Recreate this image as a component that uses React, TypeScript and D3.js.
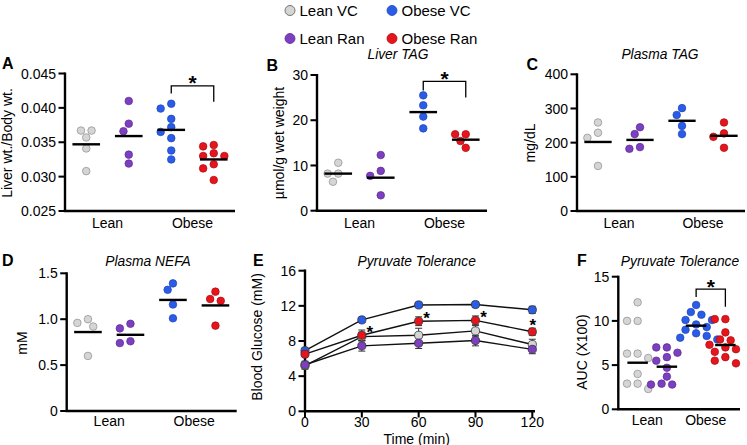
import React from 'react';
import * as d3 from 'd3';

// ---------- data ----------
const groupNames = ['Lean VC', 'Lean Ran', 'Obese VC', 'Obese Ran'];
const categoryLabels = ['Lean', 'Obese'];

// A: Liver wt./Body wt.
const aLeanVC = [0.0357, 0.0367, 0.0367, 0.0341, 0.0308];
const aLeanRan = [0.041, 0.0377, 0.0366, 0.0332, 0.0319];
const aObeseVC = [0.0406, 0.0399, 0.0384, 0.0372, 0.0365, 0.0356, 0.0338, 0.0325];
const aObeseRan = [0.0346, 0.0344, 0.0334, 0.033, 0.033, 0.0318, 0.0312, 0.0295];
const aMeans = [0.0347, 0.0359, 0.0368, 0.0325];
const aSig = [0.0432, 0.0421, 0.0409];
const aTicks = [0.025, 0.03, 0.035, 0.04, 0.045];

// B: Liver TAG
const bLeanVC = [10.6, 8.2, 8.2, 6.4];
const bLeanRan = [12.3, 8.8, 7.7, 3.4];
const bObeseVC = [25.5, 23.3, 20.8, 18.2];
const bObeseRan = [16.9, 16.9, 15.4, 13.9];
const bMeans = [8.2, 7.3, 21.8, 15.7];
const bSig = [28.6, 26.6, 25.0];
const bTicks = [0, 10, 20, 30];

// C: Plasma TAG
const cLeanVC = [259, 229, 214, 132];
const cLeanRan = [245, 225, 187, 182];
const cObeseVC = [301, 281, 249, 225];
const cObeseRan = [259, 227, 217, 185];
const cMeans = [202, 208, 264, 220];
const cTicks = [0, 100, 200, 300, 400];

// D: Plasma NEFA
const dLeanVC = [1.0, 0.96, 0.92, 0.6];
const dLeanRan = [0.95, 0.9, 0.76, 0.74];
const dObeseVC = [1.39, 1.32, 1.16, 1.01];
const dObeseRan = [1.3, 1.22, 1.2, 0.93];
const dMeans = [0.86, 0.83, 1.21, 1.15];
const dTicks = [0, 0.5, 1.0, 1.5];

// E: Pyruvate tolerance time course
const eTimes = [0, 30, 60, 90, 120];
const eLeanVC = [5.2, 8.5, 8.65, 9.15, 7.6];
const eLeanVCsem = [0.4, 0.5, 0.8, 0.6, 0.6];
const eLeanRan = [5.3, 7.45, 7.75, 8.05, 7.05];
const eLeanRanSem = [0.4, 0.6, 0.6, 0.6, 0.5];
const eObeseVC = [6.9, 10.4, 12.1, 12.15, 11.55];
const eObeseVCsem = [0.3, 0.3, 0.3, 0.3, 0.4];
const eObeseRan = [6.5, 8.65, 10.25, 10.35, 9.05];
const eObeseRanSem = [0.3, 0.6, 0.5, 0.5, 0.4];
const eStarTimes = [30, 60, 90, 120];
const eYTicks = [0, 4, 8, 12, 16];

// F: AUC
const fLeanVC = [12.1, 10.0, 10.0, 6.3, 6.3, 5.8, 4.0, 2.9, 2.9, 2.3];
const fLeanRan = [7.0, 7.0, 6.4, 5.9, 5.5, 4.7, 3.7, 2.9, 2.8, 2.8];
const fObeseVC = [11.8, 11.0, 10.7, 10.1, 10.1, 9.6, 9.3, 9.0, 8.6, 8.3, 8.1, 7.9];
const fObeseRan = [10.2, 10.2, 8.7, 7.9, 7.8, 7.3, 7.0, 6.8, 6.5, 5.9, 5.5, 5.2];
const fMeans = [5.27, 4.82, 9.46, 7.27];
const fSig = [13.6, 12.7, 11.6];
const fTicks = [0, 5, 10, 15];

// ---------- styles ----------
const FONT = "'Liberation Sans', Arial, Helvetica, sans-serif";
const fills = ['#d5d5d5', '#7b3fbf', '#2b5ce8', '#e8141b'];
const strokes = ['#8c8c8c', '#5b2b92', '#1e45b4', '#a50d12'];
const AXW = 2.4;
const R = 3.8;

function swarm(vals: number[], y: (v: number) => number, cx: number, r: number, step: number) {
  const placed: { x: number; y: number }[] = [];
  const minD = 2 * r + 0.6;
  for (const v of vals) {
    const py = y(v);
    let chosen = 0;
    for (let k = 0; k < 11; k++) {
      const n = Math.ceil(k / 2);
      const off = k === 0 ? 0 : (k % 2 === 1 ? -n : n) * step;
      if (placed.every((q) => Math.hypot(q.x - (cx + off), q.y - py) >= minD)) {
        chosen = off;
        break;
      }
    }
    placed.push({ x: cx + chosen, y: py });
  }
  return placed;
}

type DotProps = {
  series: number[][];
  means: number[];
  ticks: number[];
  fmt: (v: number) => string;
  axisX: number;
  bandStart: number;
  x1: number;
  yTop: number;
  yBottom: number;
  catY: number;
  catDx?: number;
  ylabel: string;
  ylabelX: number;
  ylabelY: number;
  sig?: number[];
  lineFrac: number;
};

function DotPanel(p: DotProps) {
  const x = d3.scaleBand<string>().domain(groupNames).range([p.bandStart, p.x1]);
  const dom = d3.extent(p.ticks) as [number, number];
  const y = d3.scaleLinear().domain(dom).range([p.yBottom, p.yTop]);
  const bw = x.bandwidth();
  const cx = (g: string) => (x(g) as number) + bw / 2;
  const catDx = p.catDx ?? 0;
  return (
    <g>
      {/* axes */}
      <line x1={p.axisX} x2={p.axisX} y1={p.yBottom} y2={p.yTop - 1} stroke="#000" strokeWidth={AXW} />
      <line x1={p.axisX - AXW / 2} x2={p.x1} y1={p.yBottom} y2={p.yBottom} stroke="#000" strokeWidth={AXW} />
      {p.ticks.map((t) => (
        <g key={t}>
          <line x1={p.axisX - 6.5} x2={p.axisX} y1={y(t)} y2={y(t)} stroke="#000" strokeWidth={AXW * 0.85} />
          <text x={p.axisX - 9} y={y(t)} dy="0.36em" textAnchor="end" fontSize={14}>
            {p.fmt(t)}
          </text>
        </g>
      ))}
      {categoryLabels.map((c, i) => (
        <text
          key={c}
          x={(cx(groupNames[2 * i]) + cx(groupNames[2 * i + 1])) / 2 + catDx}
          y={p.catY}
          textAnchor="middle"
          fontSize={14}
        >
          {c}
        </text>
      ))}
      <text transform={`translate(${p.ylabelX},${p.ylabelY}) rotate(-90)`} textAnchor="middle" fontSize={14}>
        {p.ylabel}
      </text>
      {/* points */}
      {p.series.map((vals, gi) =>
        swarm(vals, y, cx(groupNames[gi]), R, 5.3).map((pt, i) => (
          <circle key={`${gi}-${i}`} cx={pt.x} cy={pt.y} r={R} fill={fills[gi]} stroke={strokes[gi]} strokeWidth={0.7} />
        ))
      )}
      {/* mean lines */}
      {p.means.map((m, gi) => (
        <line
          key={gi}
          x1={cx(groupNames[gi]) - (bw * p.lineFrac) / 2}
          x2={cx(groupNames[gi]) + (bw * p.lineFrac) / 2}
          y1={y(m)}
          y2={y(m)}
          stroke="#000"
          strokeWidth={2.4}
        />
      ))}
      {p.sig && (
        <g>
          <path
            d={`M${cx(groupNames[2])},${y(p.sig[1])}V${y(p.sig[0])}H${cx(groupNames[3])}V${y(p.sig[2])}`}
            fill="none"
            stroke="#000"
            strokeWidth={1.3}
          />
          <text x={(cx(groupNames[2]) + cx(groupNames[3])) / 2} y={y(p.sig[0]) + 4.5} textAnchor="middle" fontSize={21} fontWeight="bold">
            *
          </text>
        </g>
      )}
    </g>
  );
}

function TimePanel() {
  const x = d3.scaleLinear().domain([0, 120]).range([305, 532.3]);
  const y = d3.scaleLinear().domain([0, 16]).range([411.3, 270.7]);
  const all = [
    { v: eLeanVC, s: eLeanVCsem, gi: 0 },
    { v: eObeseVC, s: eObeseVCsem, gi: 2 },
    { v: eObeseRan, s: eObeseRanSem, gi: 3 },
    { v: eLeanRan, s: eLeanRanSem, gi: 1 },
  ];
  const line = d3
    .line<number>()
    .x((_, i) => x(eTimes[i]))
    .y((d) => y(d));
  return (
    <g>
      <line x1={305} x2={305} y1={411.3} y2={269.5} stroke="#000" strokeWidth={AXW} />
      <line x1={304} x2={535} y1={411.3} y2={411.3} stroke="#000" strokeWidth={AXW} />
      {eYTicks.map((t) => (
        <g key={t}>
          <line x1={298.5} x2={305} y1={y(t)} y2={y(t)} stroke="#000" strokeWidth={AXW * 0.85} />
          <text x={296} y={y(t)} dy="0.36em" textAnchor="end" fontSize={14}>
            {t}
          </text>
        </g>
      ))}
      {eTimes.map((t) => (
        <g key={t}>
          <line x1={x(t)} x2={x(t)} y1={411.3} y2={417.5} stroke="#000" strokeWidth={AXW * 0.85} />
          <text x={x(t)} y={427} textAnchor="middle" fontSize={14}>
            {t}
          </text>
        </g>
      ))}
      <text x={416.7} y={443.5} textAnchor="middle" fontSize={14}>
        Time (min)
      </text>
      <text transform="translate(262,337) rotate(-90)" textAnchor="middle" fontSize={14}>
        Blood Glucose (mM)
      </text>
      {all.map((s) => (
        <path key={`l${s.gi}`} d={line(s.v) as string} fill="none" stroke="#111" strokeWidth={1.4} />
      ))}
      {all.map((s) =>
        s.v.map((m, i) => (
          <g key={`e${s.gi}-${i}`} stroke="#333" strokeWidth={1}>
            <line x1={x(eTimes[i])} x2={x(eTimes[i])} y1={y(m - s.s[i])} y2={y(m + s.s[i])} />
            <line x1={x(eTimes[i]) - 3.5} x2={x(eTimes[i]) + 3.5} y1={y(m - s.s[i])} y2={y(m - s.s[i])} />
            <line x1={x(eTimes[i]) - 3.5} x2={x(eTimes[i]) + 3.5} y1={y(m + s.s[i])} y2={y(m + s.s[i])} />
          </g>
        ))
      )}
      {all.map((s) =>
        s.v.map((m, i) => (
          <circle key={`c${s.gi}-${i}`} cx={x(eTimes[i])} cy={y(m)} r={4.1} fill={fills[s.gi]} stroke="#333" strokeWidth={0.8} />
        ))
      )}
      {eStarTimes.map((t) => {
        const i = eTimes.indexOf(t);
        const last = t === 120;
        const px = x(t) + (last ? 0.5 : 8);
        const py = y(eObeseRan[i]) + (last ? -1 : 3);
        return (
          <text key={t} x={px} y={py} textAnchor="middle" fontSize={17} fontWeight="bold">
            *
          </text>
        );
      })}
    </g>
  );
}

export default function App() {
  const legend = [
    { gi: 0, x: 290, y: 10.5 },
    { gi: 2, x: 392, y: 10.5 },
    { gi: 1, x: 290, y: 38.5 },
    { gi: 3, x: 392, y: 38.5 },
  ];
  const fmt3 = d3.format('.3f');
  const fmt1 = (v: number) => (v === 0 ? '0' : d3.format('.1f')(v));
  const fmt0 = d3.format('d');
  return (
    <svg
      width={747}
      height={445}
      style={{ position: 'absolute', left: 0, top: 0, background: '#fff' }}
      fontFamily={FONT}
    >
      <rect x={0} y={0} width={747} height={445} fill="#fff" />
      {/* legend */}
      {legend.map((l) => (
        <g key={l.gi}>
          <circle cx={l.x} cy={l.y} r={5} fill={fills[l.gi]} stroke={l.gi === 0 ? '#555' : strokes[l.gi]} strokeWidth={0.8} />
          <text x={l.x + 9.5} y={l.y + 5.5} fontSize={15}>
            {groupNames[l.gi]}
          </text>
        </g>
      ))}

      {/* panel letters */}
      {[
        ['A', 2, 69],
        ['B', 266.5, 71],
        ['C', 526.5, 70],
        ['D', 2, 266],
        ['E', 253, 266],
        ['F', 577, 266],
      ].map(([t, px, py]) => (
        <text key={t as string} x={px as number} y={py as number} fontSize={16} fontWeight="bold">
          {t}
        </text>
      ))}

      {/* titles */}
      {[
        ['Liver TAG', 398, 59],
        ['Plasma TAG', 660, 59],
        ['Plasma NEFA', 148, 266],
        ['Pyruvate Tolerance', 416.7, 266],
        ['Pyruvate Tolerance', 680, 266],
      ].map(([t, px, py], i) => (
        <text key={i} x={px as number} y={py as number} fontSize={13.8} fontStyle="italic" textAnchor="middle">
          {t}
        </text>
      ))}

      <DotPanel
        series={[aLeanVC, aLeanRan, aObeseVC, aObeseRan]}
        means={aMeans}
        ticks={aTicks}
        fmt={fmt3}
        axisX={65}
        bandStart={65}
        x1={235}
        yTop={73.5}
        yBottom={211}
        catY={227.5}
        ylabel="Liver wt./Body wt."
        ylabelX={12}
        ylabelY={143}
        sig={aSig}
        lineFrac={0.65}
      />
      <DotPanel
        series={[bLeanVC, bLeanRan, bObeseVC, bObeseRan]}
        means={bMeans}
        ticks={bTicks}
        fmt={fmt0}
        axisX={317}
        bandStart={317}
        x1={487}
        yTop={75}
        yBottom={210.7}
        catY={227.5}
        ylabel="µmol/g wet weight"
        ylabelX={284}
        ylabelY={143}
        sig={bSig}
        lineFrac={0.65}
      />
      <DotPanel
        series={[cLeanVC, cLeanRan, cObeseVC, cObeseRan]}
        means={cMeans}
        ticks={cTicks}
        fmt={fmt0}
        axisX={577}
        bandStart={577}
        x1={745}
        yTop={74.3}
        yBottom={211}
        catY={227.5}
        ylabel="mg/dL"
        ylabelX={535}
        ylabelY={143}
        lineFrac={0.65}
      />
      <DotPanel
        series={[dLeanVC, dLeanRan, dObeseVC, dObeseRan]}
        means={dMeans}
        ticks={dTicks}
        fmt={fmt1}
        axisX={66.7}
        bandStart={66.7}
        x1={236.7}
        yTop={273.3}
        yBottom={411}
        catY={426}
        ylabel="mM"
        ylabelX={27}
        ylabelY={343}
        lineFrac={0.65}
      />
      <TimePanel />
      <DotPanel
        series={[fLeanVC, fLeanRan, fObeseVC, fObeseRan]}
        means={fMeans}
        ticks={fTicks}
        fmt={fmt0}
        axisX={618.3}
        bandStart={623}
        x1={740}
        yTop={276.7}
        yBottom={409.3}
        catY={425}
        catDx={-5}
        ylabel="AUC (X100)"
        ylabelX={587}
        ylabelY={352}
        sig={fSig}
        lineFrac={0.7}
      />
    </svg>
  );
}
